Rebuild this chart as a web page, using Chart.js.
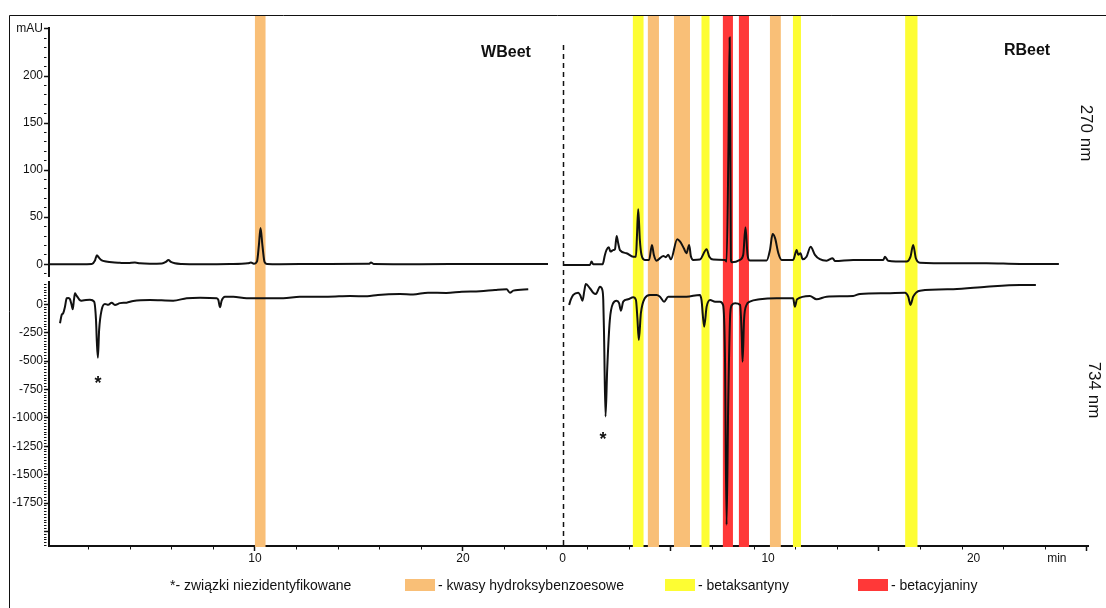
<!DOCTYPE html>
<html>
<head>
<meta charset="utf-8">
<script src="https://cdn.jsdelivr.net/npm/chart.js@4.4.1/dist/chart.umd.min.js"></script>
<style>
  html, body { margin: 0; padding: 0; background: #fff; }
  #wrap { width: 1106px; height: 608px; }
</style>
</head>
<body>
<div id="wrap"><canvas id="chart" width="1106" height="608"></canvas></div>
<script>
const FONT = '"Liberation Sans", Arial, sans-serif';
const INK = "#111";

// Both runs share one x scale: the RBeet run starts where the WBeet run stops.
const RIGHT_OFFSET = 24.79;
const RIGHT_SCALE = 0.988;
const toX = (t) => RIGHT_OFFSET + t * RIGHT_SCALE;

// ---------- Data: [time (min), signal] ----------
const wbeet270 = [
  [0.14, 0], [1.59, 0], [2.16, 0.3], [2.31, 4], [2.40, 9.6], [2.50, 7], [2.64, 4], [2.84, 3],
  [3.13, 2], [3.51, 1.5], [3.89, 1.2], [4.23, 1.8], [4.47, 1], [4.95, 0.6], [5.53, 0.8],
  [5.72, 2.5], [5.84, 4.5], [5.96, 2.5], [6.15, 1], [6.49, 0.3], [7.36, 0], [8.8, 0.2],
  [9.66, 1], [9.81, 1.8], [9.95, 0.4], [10.1, 3], [10.19, 20], [10.27, 38.5], [10.36, 20],
  [10.46, 2.5], [10.58, 0.3], [11.2, 0], [13.13, 0.3], [15.48, 0.5], [15.58, 1.8],
  [15.72, 0.3], [17.93, 0], [20.82, 0.3], [24.09, 0.3],
];
const wbeet734 = [
  [0.63, -167], [0.71, -94], [0.78, -79], [0.87, -20], [0.95, 53], [1.03, 55], [1.11, 44],
  [1.18, 0], [1.24, -44], [1.30, 40], [1.35, 97], [1.39, 85], [1.46, 67], [1.56, 40],
  [1.67, 32], [1.88, 38], [2.07, 40], [2.27, 23], [2.36, -138], [2.40, -330], [2.45, -470],
  [2.51, -226], [2.63, -50], [2.79, 3], [2.95, -5], [3.11, 14], [3.27, -6], [3.51, 10],
  [3.83, 14], [4.15, 29], [4.95, 38], [6.07, 32], [6.72, 53], [7.36, 58], [8.16, 53],
  [8.24, 38], [8.32, -26], [8.40, 32], [8.56, 67], [8.96, 67], [9.6, 53], [10.56, 53],
  [11.36, 53], [12.16, 67], [13.51, 67], [14.57, 73], [15.4, 70], [15.91, 82], [16.97, 90],
  [17.6, 86], [18.32, 102], [19.2, 100], [19.95, 111], [20.82, 115], [21.54, 126],
  [22.1, 132], [22.26, 102], [22.42, 120], [23.14, 132],
];
const rbeet270 = [
  [0.03, -0.7], [1.33, -0.7], [1.41, 2.8], [1.49, 0], [1.95, 0], [2.06, 9.9], [2.14, 15.2],
  [2.25, 18], [2.33, 13.4], [2.46, 15], [2.55, 16], [2.63, 30], [2.71, 22], [2.79, 15],
  [3.11, 11.7], [3.44, 8], [3.57, 8], [3.62, 30], [3.68, 58.5], [3.76, 26], [3.84, 10],
  [4.0, 4.6], [4.21, 4.6], [4.35, 20.5], [4.44, 10], [4.57, 3.8], [4.9, 8.8], [5.02, 7.5],
  [5.14, 10], [5.27, 5.3], [5.58, 26.6], [5.72, 24], [5.9, 17], [6.03, 11.7], [6.16, 20.5],
  [6.24, 8.8], [6.36, 4.6], [6.68, 5], [7.01, 16], [7.14, 8], [7.33, 5], [7.9, 4.6],
  [7.98, 2.8], [8.07, 120], [8.13, 241], [8.17, 100], [8.19, 4.6], [8.24, 2], [8.63, 4.6],
  [8.79, 10], [8.9, 39.4], [9.0, 10], [9.11, 4], [9.93, 4], [10.09, 15], [10.22, 32],
  [10.34, 27.7], [10.5, 11.7], [10.66, 4.6], [11.22, 4.6], [11.39, 15], [11.47, 10],
  [11.58, 11.7], [11.68, 5.3], [11.87, 8], [12.07, 18.7], [12.28, 10], [12.52, 5.3],
  [12.85, 3.8], [13.14, 6.4], [13.25, 3.5], [14.14, 4.6], [15.6, 4.6], [15.69, 8],
  [15.84, 3.8], [16.74, 2.8], [16.93, 8], [17.06, 20.5], [17.19, 6.4], [17.39, 1.7],
  [19.01, 1], [20.63, 1], [22.26, 0.3], [24.15, 0.3],
];
const rbeet734 = [
  [0.32, -6], [0.4, 40], [0.52, 82], [0.76, 102], [0.86, 80], [0.97, 32], [1.06, 120],
  [1.13, 179], [1.33, 141], [1.49, 102], [1.62, 91], [1.82, 155], [1.93, 130], [1.98, 38],
  [2.02, -285], [2.09, -989], [2.17, -578], [2.30, -138], [2.46, 9], [2.63, 32], [2.75, 9],
  [2.84, -56], [2.95, 23], [3.19, 44], [3.44, 62], [3.57, 38], [3.64, -120], [3.71, -314],
  [3.81, -79], [4.0, 53], [4.25, 82], [4.57, 82], [4.74, 67], [4.94, 23], [5.14, 67],
  [6.03, 67], [6.68, 82], [6.76, 38], [6.89, -197], [7.01, -21], [7.18, 38], [7.42, 23],
  [7.66, 23], [7.81, -6], [7.9, -431], [7.98, -1942], [8.06, -871], [8.16, -79], [8.24, -6],
  [8.4, 9], [8.64, -6], [8.72, -285], [8.76, -505], [8.83, -138], [8.95, -6], [9.11, 23],
  [9.6, 44], [10.41, 53], [11.22, 53], [11.3, -21], [11.41, 44], [12.03, 73], [12.36, 44],
  [12.85, 67], [14.14, 73], [14.47, 91], [15.77, 97], [16.66, 102], [16.82, 67], [16.93, -6],
  [17.06, 67], [17.39, 120], [19.01, 132], [20.63, 155], [22.26, 170], [23.03, 170],
];

// compound classes: [start, end, class]
const wbeetBands = [[10.0, 10.51, "acid"]];
const rbeetBands = [
  [3.42, 3.94, "bx"], [4.15, 4.69, "acid"], [5.42, 6.2, "acid"], [6.76, 7.15, "bx"],
  [7.8, 8.29, "bc"], [8.58, 9.07, "bc"], [10.09, 10.62, "acid"], [11.21, 11.6, "bx"],
  [16.67, 17.27, "bx"],
];
const bandColor = { acid: "#f9bf77", bx: "#fdfd33", bc: "#ff3838" };

// axis labels
const topLabels = [0, 50, 100, 150, 200];
const botLabels = [-1750, -1500, -1250, -1000, -750, -500, -250, 0];
const wbeetXLabels = [10, 20];
const rbeetXLabels = [0, 10, 20];

// ---------- Ticks ----------
function topTicks(axis) {
  const t = [];
  for (let v = -10; v <= 250; v += 10) {
    const major = v % 50 === 0;
    let lbl = topLabels.includes(v) ? String(v) : "";
    if (v === 250) lbl = "mAU";
    t.push({ value: v, kind: major ? "major" : "minor", lbl });
  }
  axis.ticks = t;
}
function botTicks(axis) {
  const t = [];
  for (let v = -2125; v <= 175; v += 25) {
    const major = v % 250 === 0;
    t.push({ value: v, kind: major ? "major" : "minor", lbl: botLabels.includes(v) ? String(v) : "" });
  }
  axis.ticks = t;
}
function xTicks(axis) {
  const t = [];
  for (let v = 2; v <= 50; v += 2) {
    const major = v % 10 === 0;
    t.push({ value: v, kind: major ? "major" : "minor", lbl: wbeetXLabels.includes(v) ? String(v) : "" });
  }
  rbeetXLabels.forEach((v) => t.push({ value: toX(v), kind: "label", lbl: String(v) }));
  t.push({ value: toX(24.05), kind: "label", lbl: "min" });
  t.sort((a, b) => a.value - b.value);
  axis.ticks = t;
}

const tickGrid = {
  drawOnChartArea: false,
  tickLength: 5,
  color: INK,
  tickColor: (c) => (c.tick && c.tick.kind === "label" ? "rgba(0,0,0,0)" : INK),
  tickWidth: (c) => (c.tick && c.tick.kind === "major" ? 1.5 : 1),
  tickBorderDash: (c) => (c.tick && c.tick.kind === "major" ? [] : [2.5, 30]),
};
const tickFont = { family: FONT, size: 12 };
const labelOf = (v, i, ticks) => ticks[i].lbl || "";

// ---------- Decorations ----------
const decor = {
  id: "decor",
  beforeDatasetsDraw(chart) {
    const { ctx, chartArea, scales } = chart;
    const x = scales.x;
    const drawBand = (a, b, kind) => {
      const x1 = x.getPixelForValue(a), x2 = x.getPixelForValue(b);
      ctx.fillStyle = bandColor[kind];
      ctx.fillRect(x1, 15, x2 - x1, chartArea.bottom + 1 - 15);
    };
    ctx.save();
    wbeetBands.forEach(([a, b, k]) => drawBand(a, b, k));
    rbeetBands.forEach(([a, b, k]) => drawBand(toX(a), toX(b), k));
    // run separator
    const xs = Math.round(x.getPixelForValue(RIGHT_OFFSET)) + 0.5;
    ctx.strokeStyle = INK;
    ctx.lineWidth = 1.5;
    ctx.setLineDash([5, 4]);
    ctx.beginPath();
    ctx.moveTo(xs, 45);
    ctx.lineTo(xs, chartArea.bottom);
    ctx.stroke();
    ctx.restore();
  },
  afterDraw(chart) {
    const { ctx } = chart;
    ctx.save();
    ctx.fillStyle = INK;
    ctx.strokeStyle = INK;
    // frame
    ctx.lineWidth = 1;
    ctx.beginPath();
    ctx.moveTo(9.5, 608);
    ctx.lineTo(9.5, 15.5);
    ctx.lineTo(1106, 15.5);
    ctx.stroke();

    ctx.textBaseline = "alphabetic";
    ctx.textAlign = "center";
    ctx.font = `bold 16px ${FONT}`;
    ctx.fillText("WBeet", 506, 57);
    ctx.fillText("RBeet", 1027, 55);

    ctx.font = `17px ${FONT}`;
    const vtext = (s, cx, cy) => {
      ctx.save();
      ctx.translate(cx, cy);
      ctx.rotate(Math.PI / 2);
      ctx.textBaseline = "middle";
      ctx.fillText(s, 0, 0);
      ctx.restore();
    };
    vtext("270 nm", 1086, 133);
    vtext("734 nm", 1094, 390);

    ctx.font = `bold 18px ${FONT}`;
    ctx.fillText("*", 98, 389);
    ctx.fillText("*", 603, 445);

    // legend
    ctx.font = `14px ${FONT}`;
    ctx.textAlign = "left";
    ctx.textBaseline = "middle";
    ctx.fillText("*- związki niezidentyfikowane", 170, 586);
    const item = (x, kind, text) => {
      ctx.fillStyle = bandColor[kind];
      ctx.fillRect(x, 579, 30, 12);
      ctx.fillStyle = INK;
      ctx.fillText(text, x + 33, 586);
    };
    item(405, "acid", "- kwasy hydroksybenzoesowe");
    item(665, "bx", "- betaksantyny");
    item(858, "bc", "- betacyjaniny");
    ctx.restore();
  },
};

// ---------- Chart ----------
const trace = (pts, axis, right) => ({
  data: pts.map(([t, v]) => ({ x: right ? toX(t) : t, y: v })),
  yAxisID: axis,
  borderColor: INK,
  borderWidth: 2,
  pointRadius: 0,
  fill: false,
  cubicInterpolationMode: "monotone",
});

new Chart(document.getElementById("chart"), {
  type: "line",
  data: {
    datasets: [
      trace(wbeet270, "yTop", false),
      trace(wbeet734, "yBot", false),
      trace(rbeet270, "yTop", true),
      trace(rbeet734, "yBot", true),
    ],
  },
  options: {
    responsive: false,
    devicePixelRatio: 1,
    animation: false,
    events: [],
    layout: { padding: { left: 0, top: 28, right: 18, bottom: 0 } },
    plugins: { legend: { display: false }, tooltip: { enabled: false } },
    scales: {
      x: {
        type: "linear",
        min: 0.1,
        max: 50.05,
        afterBuildTicks: xTicks,
        afterFit: (a) => { a.height = 62; },
        border: { color: INK, width: 2 },
        grid: tickGrid,
        ticks: { autoSkip: false, maxRotation: 0, minRotation: 0, padding: 0, color: INK, font: tickFont, callback: labelOf },
      },
      yBot: {
        type: "linear",
        position: "left",
        stack: "y",
        stackWeight: 264,
        min: -2128,
        max: 196,
        afterBuildTicks: botTicks,
        afterFit: (a) => { a.width = 49; },
        border: { color: INK, width: 2 },
        grid: tickGrid,
        ticks: { autoSkip: false, padding: 1, color: INK, font: tickFont, callback: labelOf },
      },
      yGap: {
        type: "linear",
        position: "left",
        stack: "y",
        stackWeight: 6,
        min: 0,
        max: 1,
        afterFit: (a) => { a.width = 49; },
        border: { display: false },
        grid: { display: false },
        ticks: { display: false },
      },
      yTop: {
        type: "linear",
        position: "left",
        stack: "y",
        stackWeight: 248,
        min: -12.5,
        max: 251,
        afterBuildTicks: topTicks,
        afterFit: (a) => { a.width = 49; },
        border: { color: INK, width: 2 },
        grid: tickGrid,
        ticks: { autoSkip: false, padding: 1, color: INK, font: tickFont, callback: labelOf },
      },
    },
  },
  plugins: [decor],
});
</script>
</body>
</html>
